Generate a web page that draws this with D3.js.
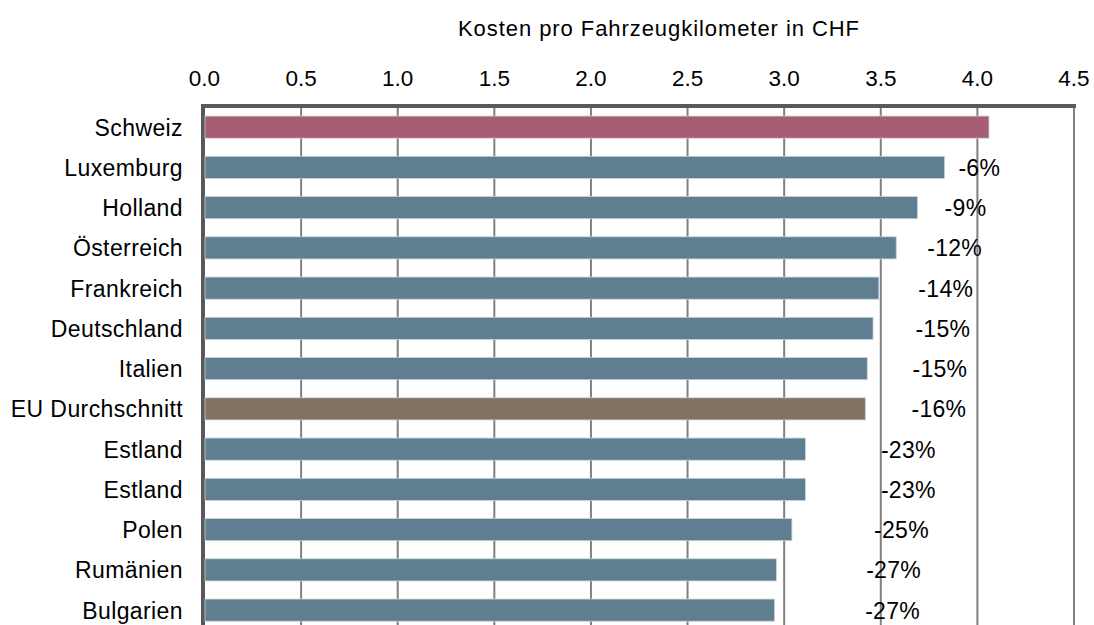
<!DOCTYPE html>
<html>
<head>
<meta charset="utf-8">
<script src="https://cdn.jsdelivr.net/npm/d3@7"></script>
<style>
  body { margin: 0; background: #fff; }
  svg text { font-family: "Liberation Sans", Arial, sans-serif; fill: #000; }
</style>
</head>
<body>
<div id="chart"></div>
<script>
// categories and values
const categories = ["Schweiz", "Luxemburg", "Holland", "Österreich", "Frankreich", "Deutschland",
    "Italien", "EU Durchschnitt", "Estland", "Estland", "Polen", "Rumänien", "Bulgarien"];
const costs = [4.06, 3.83, 3.69, 3.58, 3.49, 3.46, 3.43, 3.42, 3.11, 3.11, 3.04, 2.96, 2.95];
const diffLabels = ["", "-6%", "-9%", "-12%", "-14%", "-15%", "-15%", "-16%", "-23%", "-23%", "-25%", "-27%", "-27%"];
const ticks = [0, 0.5, 1, 1.5, 2, 2.5, 3, 3.5, 4, 4.5];
const title = "Kosten pro Fahrzeugkilometer in CHF";

const colors = { "Schweiz": "#a85e72", "EU Durchschnitt": "#837262" };
const defaultColor = "#5f7e8f";

const W = 1094, H = 625;
const data = categories.map((c, i) => ({ i: i, name: c, v: costs[i], label: diffLabels[i] }));

let svg = d3.select("#chart").append("svg")
    .attr("width", W)
    .attr("height", H);

let x = d3.scaleLinear()
    .domain([0, 4.5])
    .range([204.5, 1074]);

let y = d3.scaleBand()
    .domain(data.map(d => d.i))
    .range([107, 630.25])
    .paddingInner(0.45)
    .paddingOuter(0.225);

// title
svg.append("text")
    .attr("x", 458)
    .attr("y", 36)
    .attr("font-size", 22)
    .attr("textLength", 401)
    .attr("lengthAdjust", "spacing")
    .text(title);

// tick labels on top
svg.selectAll(".tick-label")
    .data(ticks)
    .enter()
    .append("text")
    .attr("class", "tick-label")
    .attr("x", d => x(d))
    .attr("y", 86)
    .attr("text-anchor", "middle")
    .attr("font-size", 22.5)
    .text(d => d.toFixed(1));

// vertical gridlines (first one is the axis)
svg.selectAll(".grid")
    .data(ticks.slice(1))
    .enter()
    .append("line")
    .attr("class", "grid")
    .attr("x1", d => x(d))
    .attr("x2", d => x(d))
    .attr("y1", 106)
    .attr("y2", H)
    .attr("stroke", "#808080")
    .attr("stroke-width", 2);

// top axis line
svg.append("line")
    .attr("x1", x(0) - 2)
    .attr("x2", x(4.5) + 2)
    .attr("y1", 106)
    .attr("y2", 106)
    .attr("stroke", "#595959")
    .attr("stroke-width", 4);

// left axis line
svg.append("line")
    .attr("x1", x(0) - 1.5)
    .attr("x2", x(0) - 1.5)
    .attr("y1", 104)
    .attr("y2", H)
    .attr("stroke", "#595959")
    .attr("stroke-width", 4);

let rows = svg.selectAll(".row")
    .data(data)
    .enter()
    .append("g")
    .attr("class", "row");

rows.append("rect")
    .attr("x", x(0) + 0.5)
    .attr("y", d => y(d.i))
    .attr("width", d => x(d.v) - x(0) - 0.5)
    .attr("height", y.bandwidth())
    .attr("fill", d => colors[d.name] || defaultColor)
    .attr("stroke", "#c9d3da")
    .attr("stroke-width", 0.8);

// category labels
rows.append("text")
    .attr("x", 183)
    .attr("y", d => y(d.i) + y.bandwidth() / 2 + 8.4)
    .attr("text-anchor", "end")
    .attr("font-size", 23)
    .attr("letter-spacing", 0.4)
    .text(d => d.name);

// percentage labels, placed between bar end and the Schweiz reference
const refEnd = x(costs[0]);
rows.filter(d => d.label !== "")
    .append("text")
    .attr("x", d => x(d.v) + 13 + 0.49 * (refEnd - x(d.v)))
    .attr("y", d => y(d.i) + y.bandwidth() / 2 + 8.4)
    .attr("text-anchor", "middle")
    .attr("font-size", 23)
    .attr("letter-spacing", 0.3)
    .text(d => d.label);
</script>
</body>
</html>
